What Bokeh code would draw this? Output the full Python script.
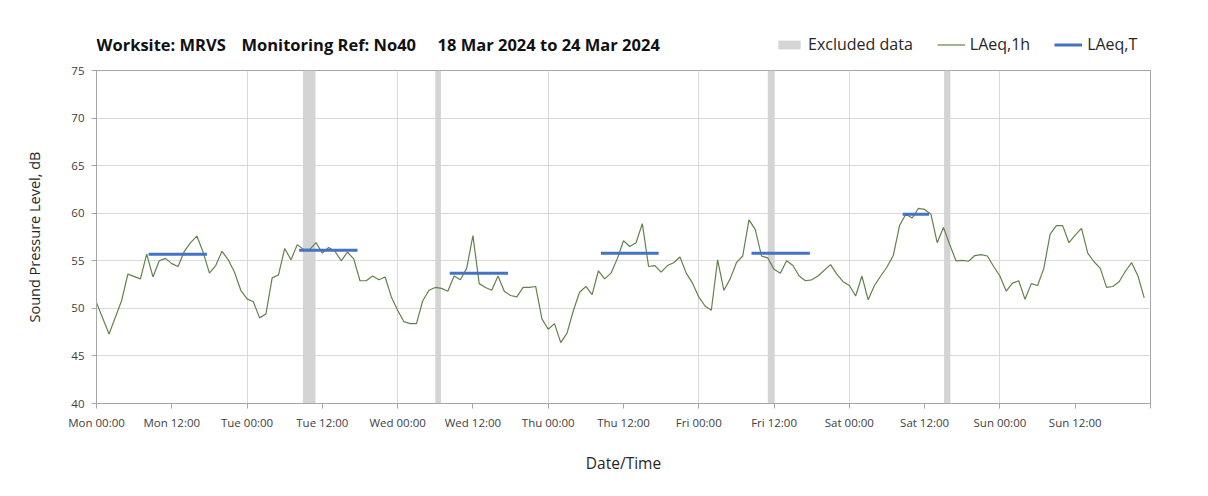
import numpy as np
import pandas as pd
from bokeh.plotting import figure
from bokeh.layouts import column
from bokeh.models import (FixedTicker, DatetimeTickFormatter, Range1d, Label,
                          Legend, LegendItem)
from bokeh.embed import file_html
from bokeh.resources import INLINE

# ---------------- data ----------------
start = pd.Timestamp("2024-03-18 00:00")

# LAeq,1h (hours since Mon 18 Mar 00:00)
hours = [0, 2, 4, 5, 7, 8, 9, 10, 11, 12, 13, 14, 15, 16, 17, 18, 19, 20, 21, 22, 23,
         24, 25, 26, 27, 28, 29, 30, 31, 32, 33, 34, 35, 36, 37, 38, 39, 40, 41,
         42, 43, 44, 45, 46, 47, 48, 49, 50, 51, 52, 53, 54, 55, 56, 57, 58, 59, 60,
         61, 62, 63, 64, 65, 66, 67, 68, 69, 70, 71, 72, 73, 74, 75, 76, 77, 78, 79,
         80, 81, 82, 83, 84, 85, 86, 87, 88, 89, 90, 91, 92, 93, 94, 95, 96, 97, 98,
         99, 100, 101, 102, 103, 104, 105, 106, 107, 108, 109, 110, 111, 112, 113,
         114, 115, 117, 118, 119, 120, 121, 122, 123, 124, 125, 126, 127, 128, 129,
         130, 131, 132, 133, 134, 135, 136, 137, 138, 139, 140, 141, 142, 143, 144,
         145, 146, 147, 148, 149, 150, 151, 152, 153, 154, 155, 156, 157, 158, 159,
         160, 161, 162, 163, 164, 165, 166, 167]
laeq_1h = [50.6, 47.3, 50.8, 53.6, 53.1, 55.7, 53.3, 55.0, 55.25, 54.7, 54.4, 56.0, 56.9,
           57.6, 55.9, 53.7, 54.5, 56.0, 55.1, 53.8, 51.9,
           51.0, 50.7, 49.0, 49.4, 53.2, 53.5, 56.3, 55.1, 56.7, 56.2, 56.2, 56.9, 55.8,
           56.4, 56.0, 55.0, 55.9, 55.2,
           52.9, 52.9, 53.4, 53.0, 53.3, 51.2, 49.8, 48.6, 48.4, 48.4, 50.8, 51.9, 52.2,
           52.1, 51.8, 53.4, 53.0, 54.2, 57.65,
           52.6, 52.2, 51.9, 53.4, 51.8, 51.35, 51.2, 52.2, 52.2, 52.3, 48.9, 47.8, 48.4,
           46.4, 47.4, 49.75, 51.7, 52.3, 51.45,
           53.95, 53.1, 53.7, 55.2, 57.1, 56.5, 56.9, 58.9, 54.4, 54.5, 53.8, 54.5, 54.8,
           55.4, 53.7, 52.65, 51.2, 50.25, 49.8,
           55.1, 51.9, 53.1, 54.8, 55.5, 59.3, 58.3, 55.5, 55.3, 54.1, 53.7, 55.0, 54.5,
           53.4, 52.9,
           53.0, 53.4, 54.6, 53.6, 52.8, 52.4, 51.3, 53.4, 50.9, 52.4, 53.4, 54.35, 55.55,
           58.7, 59.9,
           59.5, 60.5, 60.4, 59.9, 56.9, 58.5, 56.7, 55.0, 55.05, 54.95, 55.55, 55.65,
           55.5, 54.4, 53.4,
           51.8, 52.65, 52.9, 50.95, 52.6, 52.4, 54.2, 57.8, 58.7, 58.7, 56.9, 57.7,
           58.4, 55.8, 54.9,
           54.2, 52.2, 52.3, 52.8, 53.9, 54.8, 53.4, 51.1]

# LAeq,T periods
t_start = [8.3, 32.3, 56.3, 80.4, 104.4, 128.5]
t_end = [17.6, 41.6, 65.6, 89.6, 113.7, 132.7]
laeq_t = [55.7, 56.1, 53.7, 55.8, 55.8, 59.9]

# Excluded data periods
excl_start = [32.9, 54.0, 107.0, 135.1]
excl_end = [34.9, 54.9, 108.1, 136.1]

y_min, y_max = 40, 75
y_ticks = [40, 45, 50, 55, 60, 65, 70, 75]
x_tick_hours = list(range(0, 168, 12))
grid_hours = list(range(24, 168, 24))
span_hours = 168

title_parts = ["Worksite: MRVS", "Monitoring Ref: No40", "18 Mar 2024 to 24 Mar 2024"]
legend_labels = ["Excluded data", "LAeq,1h", "LAeq,T"]

# ---------------- styles ----------------
FONT = "Open Sans"
AXIS_C = "#a6a6a6"
TXT_C = "#404040"
GREEN = "#62824c"
BLUE = "#4472C4"
BAND = "#d4d4d4"
W = 1192
TOP_H = 62
BL, BR = 96, 42   # left / right borders of the plot frame

# ---------------- helpers ----------------
def to_dt(h):
    return start + pd.to_timedelta(np.asarray(h, dtype=float), unit="h")

epoch_ms = (start - pd.Timestamp("1970-01-01")) / pd.Timedelta(milliseconds=1)

def to_ms(h):
    return [epoch_ms + x * 3600000.0 for x in h]

# ---------------- header strip (title + legend) ----------------
top = figure(width=W, height=TOP_H, output_backend="svg", toolbar_location=None,
             x_range=Range1d(BL, W - BR), y_range=Range1d(TOP_H, 0),
             x_axis_location=None, y_axis_location=None,
             min_border_left=BL, min_border_right=BR, min_border_top=0, min_border_bottom=0)
top.outline_line_color = None
top.xgrid.visible = False
top.ygrid.visible = False
top.background_fill_color = "white"
top.border_fill_color = "white"

for txt, sx in zip(title_parts, [96, 241, 437]):
    top.add_layout(Label(x=sx, y=44, text=txt,
                         text_font=FONT, text_font_style="bold", text_font_size="16.5px",
                         text_baseline="middle", text_align="left", text_color="#111111"))

nan1 = [np.nan]
lg_ex = top.quad(left=nan1, right=nan1, bottom=nan1, top=nan1, fill_color=BAND, line_color=None)
lg_1h = top.line(x=nan1, y=nan1, line_color=GREEN, line_width=1.2)
lg_t = top.line(x=nan1, y=nan1, line_color=BLUE, line_width=3)
legend = Legend(items=[LegendItem(label=legend_labels[0], renderers=[lg_ex]),
                       LegendItem(label=legend_labels[1], renderers=[lg_1h]),
                       LegendItem(label=legend_labels[2], renderers=[lg_t])],
                location=(775 - BL, 7), orientation="horizontal",
                border_line_color=None, background_fill_alpha=0,
                padding=0, margin=0, spacing=24, label_standoff=5,
                glyph_width=28, glyph_height=11,
                label_text_font=FONT, label_text_font_size="16px",
                label_text_color="#262626")
top.add_layout(legend)

# ---------------- main chart ----------------
p = figure(width=W, height=480 - TOP_H, x_axis_type="datetime",
           output_backend="svg", toolbar_location=None,
           x_range=Range1d(to_ms([0])[0], to_ms([span_hours])[0]),
           y_range=Range1d(y_min, y_max),
           min_border_left=BL, min_border_right=BR,
           min_border_top=8, min_border_bottom=77)
p.background_fill_color = "white"
p.border_fill_color = "white"
p.outline_line_color = AXIS_C

p.quad(left=to_dt(excl_start), right=to_dt(excl_end),
       bottom=y_min, top=y_max, fill_color=BAND, line_color=None)
p.line(to_dt(hours), laeq_1h, line_color=GREEN, line_width=1.2)
p.segment(x0=to_dt(t_start), y0=laeq_t, x1=to_dt(t_end), y1=laeq_t,
          line_color=BLUE, line_width=3)

p.ygrid.ticker = FixedTicker(ticks=y_ticks)
p.ygrid.grid_line_color = "#d9d9d9"
p.xgrid.ticker = FixedTicker(ticks=to_ms(grid_hours))
p.xgrid.grid_line_color = "#d9d9d9"

xa = p.xaxis[0]
xa.ticker = FixedTicker(ticks=to_ms(x_tick_hours), minor_ticks=to_ms([span_hours]))
fmt = "%a %H:%M"
xa.formatter = DatetimeTickFormatter(microseconds=fmt, milliseconds=fmt, seconds=fmt,
                                     minsec=fmt, minutes=fmt, hourmin=fmt, hours=fmt,
                                     days=fmt, months=fmt, years=fmt)
xa.axis_label = "Date/Time"
xa.axis_label_text_font = FONT
xa.axis_label_text_font_style = "normal"
xa.axis_label_text_font_size = "15.5px"
xa.axis_label_text_color = "#262626"
xa.axis_label_standoff = 19
xa.major_label_text_font = FONT
xa.major_label_text_font_size = "11.5px"
xa.major_label_text_color = TXT_C
xa.major_label_standoff = 6
xa.axis_line_color = AXIS_C
xa.major_tick_line_color = AXIS_C
xa.minor_tick_line_color = AXIS_C
xa.major_tick_out = 5
xa.major_tick_in = 0
xa.minor_tick_out = 5
xa.minor_tick_in = 0

ya = p.yaxis[0]
ya.ticker = FixedTicker(ticks=y_ticks)
ya.axis_label = "Sound Pressure Level, dB"
ya.axis_label_text_font = FONT
ya.axis_label_text_font_style = "normal"
ya.axis_label_text_font_size = "14.5px"
ya.axis_label_text_color = "#262626"
ya.axis_label_standoff = 24
ya.major_label_text_font = FONT
ya.major_label_text_font_size = "11.5px"
ya.major_label_text_color = TXT_C
ya.major_label_standoff = 7
ya.axis_line_color = AXIS_C
ya.major_tick_line_color = AXIS_C
ya.minor_tick_line_color = None
ya.major_tick_out = 5
ya.major_tick_in = 0

layout = column(top, p, spacing=0)
open("out.html", "w").write(file_html(layout, INLINE))
